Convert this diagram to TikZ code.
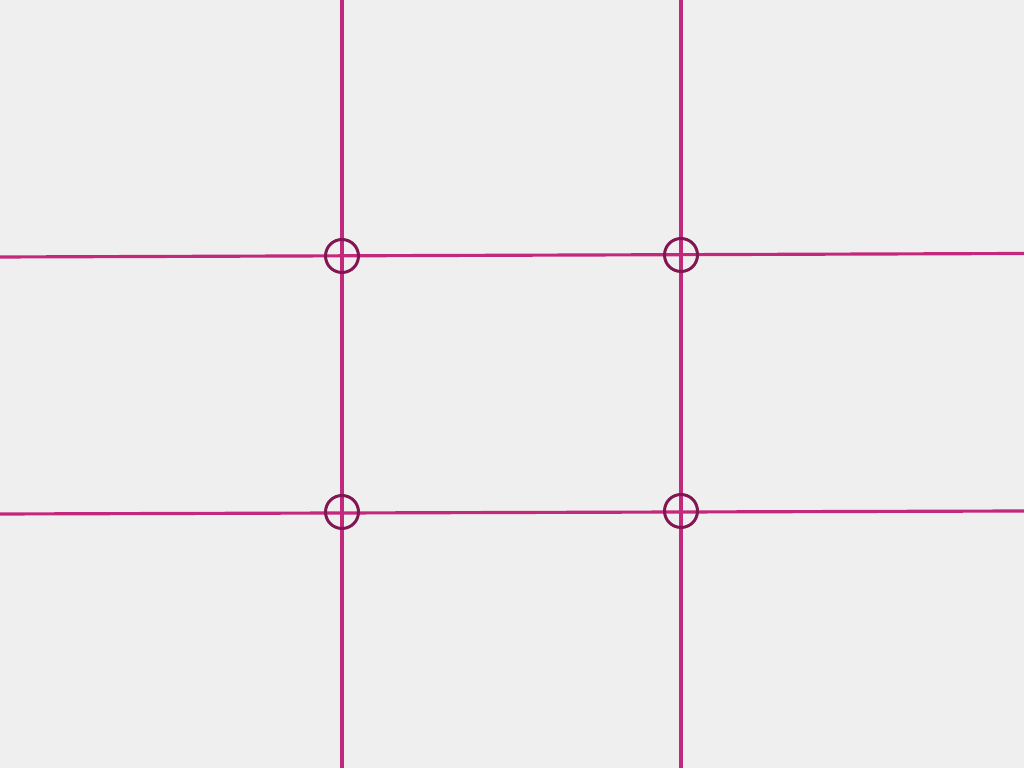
\documentclass[tikz,border=0pt]{standalone}
\usepackage{tikz}
\usepackage{xcolor}

\definecolor{gridline}{RGB}{196,40,124}
\definecolor{ringcol}{RGB}{130,22,82}
\definecolor{paper}{RGB}{240,239,239}

\begin{document}
\begin{tikzpicture}
      % 画布参数
      \def\w{10.24}  % 宽
      \def\h{7.68}   % 高
      \def\r{0.165}  % 圆半径

      % 背景
      \fill[paper] (0,0) rectangle (\w,\h);
      \useasboundingbox (0,0) rectangle (\w,\h);

      % 三分线端点
      \coordinate (h1l) at (0,5.11);
      \coordinate (h1r) at (\w,5.145);
      \coordinate (h2l) at (0,2.54);
      \coordinate (h2r) at (\w,2.57);
      \coordinate (v1t) at (3.42,\h);
      \coordinate (v1b) at (3.42,0);
      \coordinate (v2t) at (6.81,\h);
      \coordinate (v2b) at (6.81,0);

      % 交点
      \coordinate (p11) at (3.42,5.12);
      \coordinate (p12) at (6.81,5.13);
      \coordinate (p21) at (3.42,2.56);
      \coordinate (p22) at (6.81,2.57);

      % 线
      \draw[gridline, line width=0.9pt] (h1l) -- (h1r);
      \draw[gridline, line width=0.9pt] (h2l) -- (h2r);
      \draw[gridline, line width=0.9pt] (v1t) -- (v1b);
      \draw[gridline, line width=0.9pt] (v2t) -- (v2b);

      % 圆
      \draw[ringcol, line width=0.85pt] (p11) circle (\r);
      \draw[ringcol, line width=0.85pt] (p12) circle (\r);
      \draw[ringcol, line width=0.85pt] (p21) circle (\r);
      \draw[ringcol, line width=0.85pt] (p22) circle (\r);
    \end{tikzpicture}
\end{document}
